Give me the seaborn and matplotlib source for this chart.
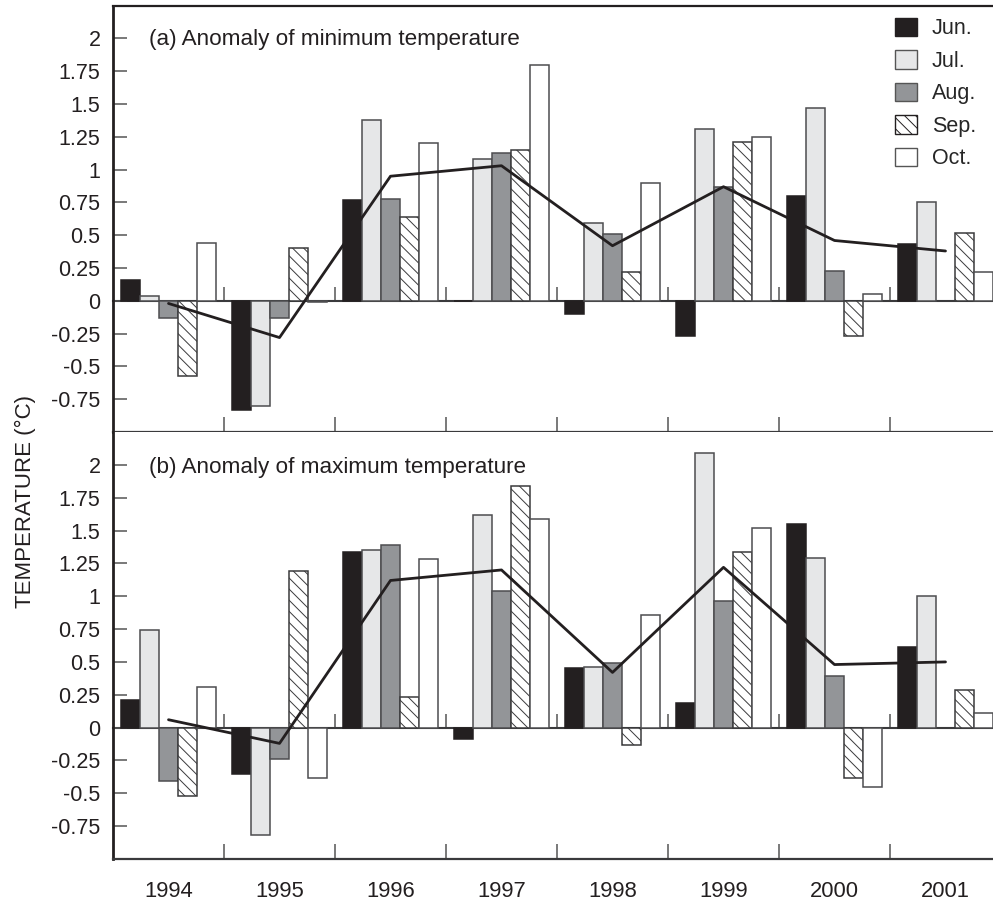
import numpy as np
import pandas as pd
import matplotlib
matplotlib.use("Agg")
import matplotlib.pyplot as plt
import seaborn as sns
from matplotlib.patches import Patch

# ---------------- data ----------------
years = ["1994", "1995", "1996", "1997", "1998", "1999", "2000", "2001"]
months = ["Jun.", "Jul.", "Aug.", "Sep.", "Oct."]

# (a) anomaly of minimum temperature
min_jun = [0.16, -0.83, 0.77, 0.00, -0.10, -0.27, 0.80, 0.43]
min_jul = [0.04, -0.80, 1.38, 1.08, 0.59, 1.31, 1.47, 0.75]
min_aug = [-0.13, -0.13, 0.78, 1.13, 0.51, 0.87, 0.23, np.nan]
min_sep = [-0.57, 0.40, 0.64, 1.15, 0.22, 1.21, -0.27, 0.52]
min_oct = [0.44, -0.01, 1.20, 1.80, 0.90, 1.25, 0.05, 0.22]
min_mean = [-0.02, -0.28, 0.95, 1.03, 0.42, 0.87, 0.46, 0.38]

# (b) anomaly of maximum temperature
max_jun = [0.21, -0.35, 1.34, -0.09, 0.45, 0.19, 1.55, 0.61]
max_jul = [0.74, -0.82, 1.35, 1.62, 0.46, 2.09, 1.29, 1.00]
max_aug = [-0.41, -0.24, 1.39, 1.04, 0.49, 0.96, 0.39, np.nan]
max_sep = [-0.52, 1.19, 0.23, 1.84, -0.13, 1.34, -0.38, 0.29]
max_oct = [0.31, -0.38, 1.28, 1.59, 0.86, 1.52, -0.45, 0.11]
max_mean = [0.06, -0.12, 1.12, 1.20, 0.42, 1.22, 0.48, 0.50]

ytick_vals = [-0.75, -0.5, -0.25, 0, 0.25, 0.5, 0.75, 1, 1.25, 1.5, 1.75, 2]
ytick_labels = ["-0.75", "-0.5", "-0.25", "0", "0.25", "0.5", "0.75", "1",
                "1.25", "1.5", "1.75", "2"]

titles = ["(a) Anomaly of minimum temperature", "(b) Anomaly of maximum temperature"]


def long_frame(series):
    rows = []
    for m, vals in zip(months, series):
        for y, v in zip(years, vals):
            if not np.isnan(v):
                rows.append({"year": y, "month": m, "value": v})
    return pd.DataFrame(rows)


panels = [
    (long_frame([min_jun, min_jul, min_aug, min_sep, min_oct]), min_mean),
    (long_frame([max_jun, max_jul, max_aug, max_sep, max_oct]), max_mean),
]

# ---------------- style ----------------
INK = "#231f20"
EDGE = "#4d4d4f"
face = {"Jun.": INK, "Jul.": "#e6e7e8", "Aug.": "#939598", "Sep.": "#ffffff", "Oct.": "#ffffff"}
HATCH = "\\\\\\"

sns.set_style("white")
plt.rcParams["font.family"] = ["Liberation Sans", "DejaVu Sans"]
plt.rcParams["axes.unicode_minus"] = False
plt.rcParams["hatch.linewidth"] = 0.7

W, H = 993, 902
fig = plt.figure(figsize=(W / 100, H / 100), dpi=100)

left = 113 / W
width = 1 - left
ax_top = fig.add_axes([left, 1 - 432 / H, width, 426.3 / H])
ax_bot = fig.add_axes([left, 1 - 859 / H, width, 427 / H])

ylim = (-1.0, 2.25)
n = len(years)
bounds = np.arange(n - 1) + 0.5
xmax = -0.5 + (W - 113) / 111.0

for i, (ax, (df, mean_vals)) in enumerate(zip([ax_top, ax_bot], panels)):
    sns.barplot(data=df, x="year", y="value", hue="month", order=years,
                hue_order=months, palette=face, width=0.855, gap=0,
                dodge=True, errorbar=None, saturation=1, edgecolor=EDGE,
                linewidth=1.1, legend=False, ax=ax, zorder=2)
    for cont, m in zip(ax.containers, months):
        for p in cont:
            if m == "Jun.":
                p.set_edgecolor(INK)
            if m == "Sep.":
                p.set_hatch(HATCH)
                p.set_edgecolor("#3a3a3c")
    sns.lineplot(x=np.arange(n), y=mean_vals, color=INK, linewidth=2.0,
                 ax=ax, zorder=6)

    ax.set_ylim(*ylim)
    ax.set_xlim(-0.5, xmax)
    ax.set_xlabel("")
    ax.set_ylabel("")
    ax.set_yticks(ytick_vals)
    ax.set_yticklabels(ytick_labels)
    ax.tick_params(axis="y", direction="in", length=10, width=1.1,
                   color="#555555", pad=9, labelsize=15.5, labelcolor=INK,
                   left=True)
    ax.set_xticks(bounds)
    ax.set_xticklabels([])
    ax.set_xticks(np.arange(n), minor=True)
    if i == 1:
        ax.set_xticklabels(years, minor=True)
    else:
        ax.set_xticklabels([""] * n, minor=True)
    ax.tick_params(axis="x", which="major", direction="in", length=11,
                   width=1.1, color="#555555", bottom=True, top=False)
    ax.tick_params(axis="x", which="minor", length=0, pad=16,
                   labelsize=15.8, labelcolor=INK)

    for s in ax.spines.values():
        s.set_color(INK)
    ax.spines["right"].set_visible(False)
    ax.spines["left"].set_linewidth(2.0)
    ax.spines["bottom"].set_linewidth(1.6)
    ax.spines["bottom"].set_color("#3a3a3c")
    ax.spines["top"].set_linewidth(1.6)
    if i == 1:
        ax.spines["top"].set_visible(False)

    # zero line with group-boundary ticks
    loc0 = (0 - ylim[0]) / (ylim[1] - ylim[0])
    sec = ax.secondary_xaxis(loc0)
    sec.set_xticks(bounds)
    sec.tick_params(axis="x", direction="in", length=10, width=1.1,
                    color="#555555", labelbottom=False, labeltop=False)
    sec.spines["bottom"].set_linewidth(1.5)
    sec.spines["bottom"].set_color("#3a3a3c")

fig.text(149 / W, 1 - 45 / H, titles[0], fontsize=16.2, color=INK, va="baseline")
fig.text(149 / W, 1 - 473 / H, titles[1], fontsize=16.2, color=INK, va="baseline")
fig.text(25 / W, 1 - 502 / H, "TEMPERATURE (\u00b0C)", rotation=90, fontsize=16,
         color=INK, va="center", ha="center")

handles = []
for m in months:
    handles.append(Patch(facecolor=face[m],
                         edgecolor=INK if m in ("Jun.", "Sep.") else "#555555",
                         hatch=HATCH if m == "Sep." else None, linewidth=1.0,
                         label=m))
ax_top.legend(handles=handles, loc="upper left",
              bbox_to_anchor=(895 / W, 1 - 17.5 / H),
              bbox_transform=fig.transFigure, frameon=False, fontsize=15.5,
              handlelength=1.02, handleheight=0.96, handletextpad=0.7,
              labelspacing=0.5, borderpad=0, borderaxespad=0)

fig.savefig("out.png", dpi=100)
